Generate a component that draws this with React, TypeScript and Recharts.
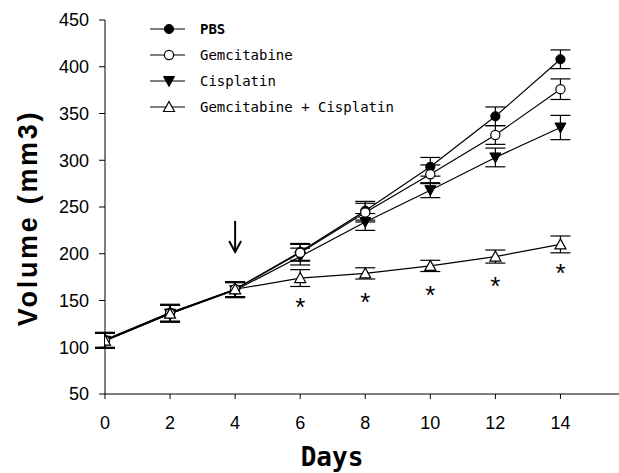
import React from "react";
import { LineChart, Line, XAxis, YAxis, ErrorBar, Legend, LabelList, ReferenceDot } from "recharts";

const days = [0, 2, 4, 6, 8, 10, 12, 14];
const pbs = [108, 137, 162, 202, 246, 293, 347, 408];
const pbsErr = [8, 9, 8, 9, 10, 10, 10, 10];
const gem = [107, 136, 162, 201, 244, 285, 327, 376];
const gemErr = [8, 9, 8, 9, 10, 10, 10, 11];
const cis = [107, 136, 161, 197, 234, 268, 303, 335];
const cisErr = [8, 9, 8, 9, 9, 8, 10, 13];
const combo = [107, 136, 162, 174, 179, 187, 197, 210];
const comboErr = [8, 9, 8, 9, 6, 6, 7, 9];
const significant = [false, false, false, true, true, true, true, true];
const yTicks = [50, 100, 150, 200, 250, 300, 350, 400, 450];

// treatment start arrow
const arrowDay = 4;
const arrowMid = 218;

const series = [
  { key: "pbs", err: "pbsErr", name: "PBS", marker: "filledCircle", bold: true },
  { key: "cis", err: "cisErr", name: "Cisplatin", marker: "filledDown", bold: false },
  { key: "gem", err: "gemErr", name: "Gemcitabine", marker: "openCircle", bold: false },
  { key: "combo", err: "comboErr", name: "Gemcitabine + Cisplatin", marker: "openUp", bold: false },
];
const legendOrder = ["pbs", "gem", "cis", "combo"];

const data = days.map((d, i) => ({
  day: d,
  pbs: pbs[i],
  pbsErr: pbsErr[i],
  gem: gem[i],
  gemErr: gemErr[i],
  cis: cis[i],
  cisErr: cisErr[i],
  combo: combo[i],
  comboErr: comboErr[i],
  sig: significant[i] ? "*" : "",
}));

function Marker({ cx, cy, kind }: { cx: number; cy: number; kind: string }) {
  if (cx == null || cy == null) return null;
  if (kind === "filledCircle") return <circle cx={cx} cy={cy} r={4.6} fill="#000" stroke="#000" />;
  if (kind === "openCircle") return <circle cx={cx} cy={cy} r={4.6} fill="#fff" stroke="#000" strokeWidth={1.2} />;
  if (kind === "filledDown")
    return <path d={`M${cx - 5.5},${cy - 4.5} L${cx + 5.5},${cy - 4.5} L${cx},${cy + 5.5} Z`} fill="#000" stroke="#000" />;
  return (
    <path d={`M${cx},${cy - 5.5} L${cx + 5.5},${cy + 4.5} L${cx - 5.5},${cy + 4.5} Z`} fill="#fff" stroke="#000" strokeWidth={1.2} />
  );
}

function LegendBox() {
  return (
    <div style={{ fontFamily: "'DejaVu Sans Mono', monospace", fontSize: 14, color: "#000" }}>
      {legendOrder.map((k) => {
        const s = series.find((x) => x.key === k)!;
        return (
          <div key={k} style={{ display: "flex", alignItems: "center", height: 26 }}>
            <svg width={52} height={14}>
              <line x1={2} y1={7} x2={37} y2={7} stroke="#000" strokeWidth={1.2} />
              <Marker cx={21} cy={7} kind={s.marker} />
            </svg>
            <span style={{ fontWeight: s.bold ? "bold" : "normal", whiteSpace: "pre" }}>{s.name}</span>
          </div>
        );
      })}
    </div>
  );
}

function Arrow(props: any) {
  const { cx, cy } = props;
  return (
    <g stroke="#000" strokeWidth={2} fill="none">
      <line x1={cx} y1={cy - 16} x2={cx} y2={cy + 15} />
      <polyline points={`${cx - 6},${cy + 4} ${cx},${cy + 15} ${cx + 6},${cy + 4}`} />
    </g>
  );
}

export default function App() {
  const tickStyle = { fill: "#000", fontSize: 18, fontFamily: "'Liberation Sans', Arial, sans-serif" };
  return (
    <div style={{ position: "absolute", left: 0, top: 0, width: 619, height: 473, background: "#fff" }}>
      <LineChart width={619} height={473} data={data} margin={{ top: 20, right: 0, bottom: 0, left: 0 }}>
        <XAxis
          type="number"
          dataKey="day"
          domain={[0, 15.8]}
          ticks={days}
          allowDataOverflow
          height={79}
          tick={tickStyle}
          tickSize={5}
          tickMargin={17}
          axisLine={{ stroke: "#000" }}
          tickLine={{ stroke: "#000" }}
          label={{
            content: () => (
              <text x={332} y={466} textAnchor="middle" fontSize={26} fontWeight="bold" fontFamily="'DejaVu Sans Mono', monospace" fill="#000">
                Days
              </text>
            ),
          }}
        />
        <YAxis
          type="number"
          domain={[50, 450]}
          ticks={yTicks}
          width={105}
          tick={tickStyle}
          tickSize={6}
          tickMargin={10}
          axisLine={{ stroke: "#000" }}
          tickLine={{ stroke: "#000" }}
          label={{
            content: () => (
              <text
                x={37}
                y={218}
                transform="rotate(-90 37 218)"
                textAnchor="middle"
                fontSize={27}
                fontWeight="bold"
                letterSpacing={2.7}
                fontFamily="'Liberation Sans', Arial, sans-serif"
                fill="#000"
              >
                Volume (mm3)
              </text>
            ),
          }}
        />
        <Legend
          layout="vertical"
          align="center"
          verticalAlign="middle"
          content={() => <LegendBox />}
          wrapperStyle={{ position: "absolute", top: 16, left: 148, width: 320 }}
        />
        {series.map((s) => (
          <Line
            key={s.key}
            dataKey={s.key}
            name={s.name}
            stroke="#000"
            strokeWidth={1.2}
            isAnimationActive={false}
            activeDot={false}
            dot={(p: any) => <Marker key={`${s.key}-${p.index}`} cx={p.cx} cy={p.cy} kind={s.marker} />}
          >
            <ErrorBar dataKey={s.err} width={10} stroke="#000" strokeWidth={1.2} />
            {s.key === "combo" && (
              <LabelList
                dataKey="sig"
                content={(p: any) =>
                  p.value ? (
                    <text x={p.x} y={p.y + 38} textAnchor="middle" fontSize={26} fontFamily="'Liberation Sans', Arial, sans-serif" fill="#000">
                      {p.value}
                    </text>
                  ) : null
                }
              />
            )}
          </Line>
        ))}
        <ReferenceDot x={arrowDay} y={arrowMid} r={0} shape={Arrow} />
      </LineChart>
    </div>
  );
}
